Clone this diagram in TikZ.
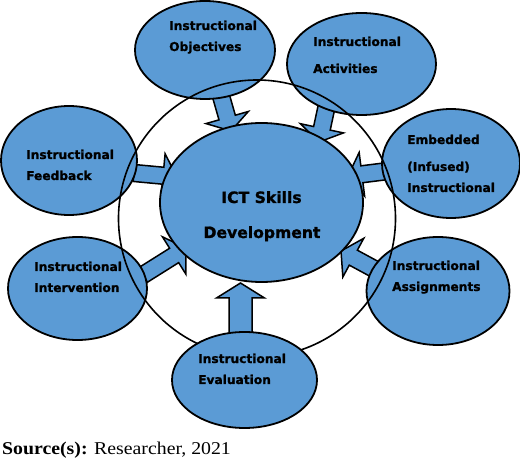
\documentclass[tikz,border=0pt]{standalone}
\usepackage{fontspec}
\setmainfont{Liberation Serif}
\newfontfamily\labfont[BoldFeatures={FakeBold=1.2}]{DejaVu Sans}
\usetikzlibrary{shapes.geometric,calc}
\definecolor{ictblue}{RGB}{91,155,213}
\tikzset{
  bub/.style={ellipse, draw=black, line width=1.8pt, fill=ictblue, inner sep=0pt},
  lab/.style={anchor=base west, inner sep=0pt, font=\labfont\bfseries\fontsize{12.2}{14}\selectfont},
  cen/.style={anchor=base, inner sep=0pt, font=\labfont\bfseries\fontsize{15.6}{18}\selectfont},
  blk/.style n args={3}{draw=black, line width=1.5pt, fill=ictblue, line join=miter,
    to path={
      ($(\tikztotarget)!#3!(\tikztostart)$) coordinate (hb)
      ($(\tikztostart)!#1!90:(\tikztotarget)$) -- ($(hb)!#1!90:(\tikztotarget)$)
      -- ($(hb)!#2!90:(\tikztotarget)$) -- (\tikztotarget)
      -- ($(hb)!#2!-90:(\tikztotarget)$) -- ($(hb)!#1!-90:(\tikztotarget)$)
      -- ($(\tikztostart)!#1!-90:(\tikztotarget)$) -- cycle
    }},
  ring/.style={draw=black, line width=1.6pt}
}
\begin{document}
\begin{tikzpicture}[x=1pt,y=-1pt]
\useasboundingbox (0,0) rectangle (520,465);

% arrow end points
\coordinate (objS) at (221,96);   \coordinate (objT) at (231,131);
\coordinate (actS) at (328,100);  \coordinate (actT) at (319,142);
\coordinate (fbS)  at (134,173);  \coordinate (fbT)  at (177,177);
\coordinate (intS) at (143,275);  \coordinate (intT) at (186,248);
\coordinate (embS) at (388,171);  \coordinate (embT) at (348,176);
\coordinate (asgS) at (378,271);  \coordinate (asgT) at (341,251);
\coordinate (evS)  at (240.5,334);\coordinate (evT)  at (240.5,283);

% block arrows
\draw[blk={8.5pt}{22pt}{14pt}] (objS) to (objT);
\draw[blk={8.5pt}{22pt}{14pt}] (actS) to (actT);
\draw[blk={8.5pt}{22pt}{14pt}] (fbS) to (fbT);
\draw[blk={8.5pt}{22pt}{14pt}] (intS) to (intT);
\draw[blk={8.5pt}{22pt}{14pt}] (embS) to (embT);
\draw[blk={8.5pt}{22pt}{14pt}] (asgS) to (asgT);
\draw[blk={11.5pt}{24pt}{15pt}] (evS) to (evT);

% satellite ellipses
\node[bub, minimum width=140pt, minimum height=98pt]  (obj) at (205,50) {};
\node[bub, minimum width=149pt, minimum height=102pt] (act) at (361.5,64) {};
\node[bub, minimum width=136pt, minimum height=109pt] (fb)  at (69,160.5) {};
\node[bub, minimum width=139pt, minimum height=103pt] (int) at (77.5,288.5) {};
\node[bub, minimum width=138pt, minimum height=109pt] (emb) at (451,163.5) {};
\node[bub, minimum width=143pt, minimum height=108pt] (asg) at (438,291) {};

% central ellipse
\node[bub, minimum width=203pt, minimum height=159pt] (ict) at (261.5,202.5) {};

% big ring
\node[ring, circle, minimum size=277pt, inner sep=0pt] (big) at (257,218.5) {};

% evaluation ellipse (over the ring)
\node[bub, minimum width=145pt, minimum height=96pt] (ev) at (244.5,380) {};

% labels
\node[lab] (t1a) at (169,30) {Instructional};
\node[lab] (t1b) at (169,51) {Objectives};
\node[lab] (t2a) at (313,46) {Instructional};
\node[lab] (t2b) at (313,73) {Activities};
\node[lab] (t3a) at (26,159) {Instructional};
\node[lab] (t3b) at (26,180) {Feedback};
\node[lab] (t4a) at (34,271) {Instructional};
\node[lab] (t4b) at (34,292) {Intervention};
\node[lab] (t5a) at (407,144) {Embedded};
\node[lab] (t5b) at (407,171) {(Infused)};
\node[lab] (t5c) at (407,192) {Instructional};
\node[lab] (t6a) at (392,270) {Instructional};
\node[lab] (t6b) at (392,291) {Assignments};
\node[lab] (t7a) at (198,363) {Instructional};
\node[lab] (t7b) at (198,384) {Evaluation};
\node[cen] (c1) at (261.5,203) {ICT Skills};
\node[cen] (c2) at (262,238) {Development};

% source line
\node[anchor=base west, inner sep=0pt, font=\fontsize{18}{20}\selectfont] (src) at (2,454)
  {\scalebox{1.1}[1]{\textbf{Source(s):} Researcher, 2021}};
\end{tikzpicture}
\end{document}
